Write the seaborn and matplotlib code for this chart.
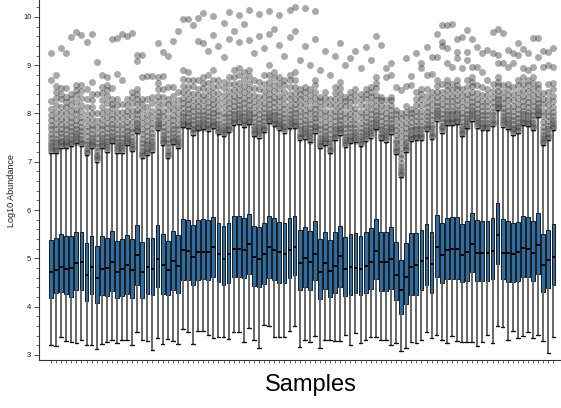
import matplotlib
matplotlib.use("Agg")
import matplotlib.pyplot as plt
from matplotlib.ticker import MultipleLocator
import pandas as pd
import seaborn as sns

# One box per sample
samples = [f"S{i + 1:03d}" for i in range(100)]

whisker_low = [3.20, 3.18, 3.37, 3.28, 3.26, 3.24, 3.30, 3.21, 3.21, 3.13,
               3.23, 3.26, 3.32, 3.24, 3.32, 3.32, 3.20, 3.47, 3.31, 3.28,
               3.10, 3.36, 3.23, 3.34, 3.28, 3.23, 3.53, 3.47, 3.23, 3.50,
               3.49, 3.41, 3.36, 3.38, 3.38, 3.33, 3.48, 3.48, 3.26, 3.55,
               3.30, 3.15, 3.63, 3.61, 3.38, 3.37, 3.37, 3.49, 3.59, 3.16,
               3.30, 3.27, 3.39, 3.14, 3.32, 3.32, 3.28, 3.28, 3.41, 3.20,
               3.45, 3.24, 3.32, 3.37, 3.37, 3.32, 3.30, 3.20, 3.24, 3.09,
               3.15, 3.27, 3.24, 3.32, 3.48, 3.36, 3.41, 3.32, 3.24, 3.39,
               3.28, 3.27, 3.26, 3.27, 3.19, 3.26, 3.41, 3.24, 3.59, 3.57,
               3.32, 3.50, 3.35, 3.39, 3.48, 3.35, 3.42, 3.28, 3.04, 3.38]

q1 = [4.19, 4.28, 4.30, 4.26, 4.21, 4.34, 4.34, 4.12, 4.26, 4.08,
      4.24, 4.23, 4.33, 4.17, 4.23, 4.26, 4.19, 4.45, 4.19, 4.27,
      4.24, 4.41, 4.27, 4.24, 4.35, 4.28, 4.56, 4.55, 4.45, 4.55,
      4.57, 4.56, 4.62, 4.52, 4.45, 4.49, 4.61, 4.61, 4.59, 4.68,
      4.43, 4.40, 4.47, 4.60, 4.56, 4.50, 4.50, 4.59, 4.65, 4.35,
      4.41, 4.35, 4.55, 4.15, 4.36, 4.20, 4.28, 4.41, 4.22, 4.24,
      4.28, 4.24, 4.29, 4.37, 4.57, 4.33, 4.33, 4.37, 4.13, 3.85,
      4.05, 4.25, 4.24, 4.35, 4.44, 4.28, 4.61, 4.50, 4.57, 4.58,
      4.58, 4.51, 4.54, 4.71, 4.53, 4.53, 4.53, 4.57, 4.88, 4.58,
      4.51, 4.51, 4.54, 4.62, 4.61, 4.53, 4.68, 4.30, 4.39, 4.45]

median = [4.71, 4.76, 4.83, 4.79, 4.80, 4.90, 4.92, 4.66, 4.82, 4.59,
          4.77, 4.81, 4.92, 4.72, 4.77, 4.86, 4.75, 5.06, 4.71, 4.82,
          4.79, 4.99, 4.86, 4.75, 4.94, 4.84, 5.17, 5.15, 5.03, 5.13,
          5.13, 5.14, 5.23, 5.10, 4.98, 5.09, 5.19, 5.20, 5.17, 5.30,
          5.02, 4.98, 5.10, 5.24, 5.17, 5.14, 5.10, 5.17, 5.23, 4.91,
          5.00, 4.93, 5.10, 4.71, 4.91, 4.74, 4.84, 5.04, 4.78, 4.83,
          4.81, 4.77, 4.84, 4.93, 5.16, 4.92, 4.92, 4.98, 4.66, 4.35,
          4.62, 4.83, 4.87, 4.94, 5.01, 4.88, 5.23, 5.06, 5.17, 5.19,
          5.19, 5.08, 5.13, 5.30, 5.11, 5.12, 5.12, 5.15, 5.48, 5.11,
          5.11, 5.09, 5.14, 5.21, 5.19, 5.12, 5.28, 4.87, 4.97, 5.02]

q3 = [5.38, 5.43, 5.51, 5.47, 5.47, 5.54, 5.54, 5.31, 5.46, 5.25,
      5.46, 5.42, 5.56, 5.37, 5.41, 5.48, 5.41, 5.70, 5.34, 5.42,
      5.43, 5.70, 5.50, 5.37, 5.56, 5.48, 5.81, 5.80, 5.69, 5.80,
      5.81, 5.79, 5.85, 5.74, 5.68, 5.74, 5.87, 5.88, 5.84, 5.92,
      5.67, 5.64, 5.73, 5.88, 5.83, 5.76, 5.74, 5.83, 5.87, 5.59,
      5.64, 5.57, 5.77, 5.40, 5.55, 5.39, 5.55, 5.67, 5.45, 5.50,
      5.53, 5.47, 5.55, 5.62, 5.81, 5.55, 5.55, 5.64, 5.34, 4.97,
      5.31, 5.52, 5.52, 5.59, 5.71, 5.55, 5.89, 5.73, 5.84, 5.85,
      5.85, 5.71, 5.78, 5.95, 5.79, 5.78, 5.78, 5.83, 6.15, 5.82,
      5.77, 5.73, 5.75, 5.88, 5.85, 5.77, 5.95, 5.51, 5.59, 5.71]

whisker_high = [7.19, 7.18, 7.29, 7.28, 7.33, 7.38, 7.33, 7.14, 7.28, 7.00,
                7.28, 7.21, 7.39, 7.19, 7.19, 7.34, 7.22, 7.59, 7.08, 7.14,
                7.21, 7.65, 7.34, 7.08, 7.37, 7.28, 7.72, 7.70, 7.56, 7.66,
                7.67, 7.64, 7.70, 7.57, 7.53, 7.62, 7.76, 7.79, 7.72, 7.78,
                7.53, 7.50, 7.62, 7.80, 7.74, 7.65, 7.60, 7.69, 7.70, 7.45,
                7.48, 7.40, 7.60, 7.28, 7.34, 7.18, 7.45, 7.56, 7.30, 7.39,
                7.40, 7.32, 7.44, 7.50, 7.67, 7.45, 7.42, 7.58, 7.16, 6.68,
                7.20, 7.43, 7.45, 7.45, 7.64, 7.47, 7.85, 7.60, 7.76, 7.76,
                7.78, 7.53, 7.69, 7.85, 7.71, 7.66, 7.66, 7.74, 8.07, 7.73,
                7.67, 7.56, 7.60, 7.76, 7.74, 7.66, 7.92, 7.34, 7.45, 7.65]

# Values above the upper whisker, per sample
outliers = [
    [7.23, 7.28, 7.35, 7.42, 7.50, 7.58, 7.67, 7.76, 7.86, 7.97, 8.10, 8.25, 8.70, 9.25],
    [7.22, 7.27, 7.33, 7.40, 7.48, 7.57, 7.67, 7.78, 7.90, 8.03, 8.18, 8.33, 8.45, 8.57, 8.80],
    [7.33, 7.38, 7.44, 7.51, 7.59, 7.68, 7.78, 7.89, 8.01, 8.14, 8.29, 8.40, 8.52, 9.35],
    [7.32, 7.37, 7.43, 7.50, 7.58, 7.67, 7.77, 7.88, 8.00, 8.13, 8.24, 8.35, 8.52, 9.25],
    [7.37, 7.42, 7.48, 7.55, 7.63, 7.72, 7.82, 7.93, 8.05, 8.18, 8.29, 8.40, 9.59],
    [7.42, 7.47, 7.53, 7.60, 7.68, 7.77, 7.87, 7.98, 8.10, 8.23, 8.38, 8.49, 8.60, 9.68],
    [7.37, 7.42, 7.48, 7.55, 7.63, 7.72, 7.82, 7.93, 8.05, 8.18, 8.33, 8.47, 8.60, 9.62],
    [7.18, 7.23, 7.29, 7.36, 7.44, 7.53, 7.63, 7.74, 7.86, 7.99, 8.14, 8.30, 8.50, 9.49],
    [7.32, 7.37, 7.43, 7.50, 7.58, 7.67, 7.77, 7.88, 8.00, 8.13, 8.27, 8.40, 8.65, 9.65],
    [7.04, 7.09, 7.15, 7.22, 7.30, 7.39, 7.49, 7.60, 7.72, 7.85, 8.00, 8.40, 9.06],
    [7.32, 7.37, 7.43, 7.50, 7.58, 7.67, 7.77, 7.88, 8.00, 8.13, 8.28, 8.42, 8.55, 8.80],
    [7.25, 7.30, 7.36, 7.43, 7.51, 7.60, 7.70, 7.81, 7.93, 8.06, 8.21, 8.36, 8.48, 8.60, 8.75],
    [7.43, 7.48, 7.54, 7.61, 7.69, 7.78, 7.88, 7.99, 8.11, 8.20, 8.30, 8.52, 9.54],
    [7.23, 7.28, 7.34, 7.41, 7.49, 7.58, 7.68, 7.79, 7.91, 8.04, 8.17, 8.30, 8.82, 9.56],
    [7.23, 7.28, 7.34, 7.41, 7.49, 7.58, 7.68, 7.79, 7.91, 8.04, 8.20, 8.70, 9.64],
    [7.38, 7.43, 7.49, 7.56, 7.64, 7.73, 7.83, 7.94, 8.06, 8.18, 8.30, 9.60],
    [7.26, 7.31, 7.37, 7.44, 7.52, 7.61, 7.71, 7.82, 7.94, 8.07, 8.22, 8.34, 8.45, 9.66],
    [7.63, 7.68, 7.74, 7.81, 7.89, 7.98, 8.08, 8.19, 8.31, 8.41, 8.50, 9.08, 9.21],
    [7.12, 7.17, 7.23, 7.30, 7.38, 7.47, 7.57, 7.68, 7.80, 7.93, 8.08, 8.20, 8.30, 8.75, 9.22],
    [7.18, 7.23, 7.29, 7.36, 7.44, 7.53, 7.63, 7.74, 7.86, 7.99, 8.14, 8.30, 8.77],
    [7.25, 7.30, 7.36, 7.43, 7.51, 7.60, 7.70, 7.81, 7.93, 8.06, 8.21, 8.35, 8.78],
    [7.69, 7.74, 7.80, 7.87, 7.95, 8.04, 8.14, 8.25, 8.37, 8.50, 8.63, 8.75, 9.46],
    [7.38, 7.43, 7.49, 7.56, 7.64, 7.73, 7.83, 7.94, 8.06, 8.19, 8.34, 8.50, 8.78, 9.27],
    [7.12, 7.17, 7.23, 7.30, 7.38, 7.47, 7.57, 7.68, 7.80, 7.93, 8.08, 8.20, 8.30, 8.55, 9.19],
    [7.41, 7.46, 7.52, 7.59, 7.67, 7.76, 7.86, 7.97, 8.09, 8.22, 8.37, 8.55, 9.50],
    [7.32, 7.37, 7.43, 7.50, 7.58, 7.67, 7.77, 7.88, 8.00, 8.13, 8.28, 8.45, 9.70],
    [7.76, 7.81, 7.87, 7.94, 8.02, 8.11, 8.21, 8.32, 8.44, 8.57, 8.72, 8.90, 9.96],
    [7.74, 7.79, 7.85, 7.92, 8.00, 8.09, 8.19, 8.30, 8.42, 8.55, 8.70, 8.85, 9.95],
    [7.60, 7.65, 7.71, 7.78, 7.86, 7.95, 8.05, 8.16, 8.28, 8.41, 8.56, 8.70, 9.83],
    [7.70, 7.75, 7.81, 7.88, 7.96, 8.05, 8.15, 8.26, 8.38, 8.51, 8.70, 9.50, 9.98],
    [7.71, 7.76, 7.82, 7.89, 7.97, 8.06, 8.16, 8.27, 8.39, 8.52, 8.64, 8.75, 9.45, 10.08],
    [7.68, 7.73, 7.79, 7.86, 7.94, 8.03, 8.13, 8.24, 8.36, 8.49, 8.64, 8.80, 9.30],
    [7.74, 7.79, 7.85, 7.92, 8.00, 8.09, 8.19, 8.30, 8.42, 8.55, 8.70, 8.90, 9.62, 10.02],
    [7.61, 7.66, 7.72, 7.79, 7.87, 7.96, 8.06, 8.17, 8.29, 8.42, 8.57, 8.70, 9.40],
    [7.57, 7.62, 7.68, 7.75, 7.83, 7.92, 8.02, 8.13, 8.25, 8.38, 8.53, 8.65, 9.18, 9.88],
    [7.66, 7.71, 7.77, 7.84, 7.92, 8.01, 8.11, 8.22, 8.34, 8.47, 8.62, 8.75, 9.55, 10.10],
    [7.80, 7.85, 7.91, 7.98, 8.06, 8.15, 8.25, 8.36, 8.48, 8.61, 8.76, 8.90, 9.70],
    [7.83, 7.88, 7.94, 8.01, 8.09, 8.18, 8.28, 8.39, 8.51, 8.64, 8.79, 8.95, 9.48, 10.04],
    [7.76, 7.81, 7.87, 7.94, 8.02, 8.11, 8.21, 8.32, 8.44, 8.57, 8.72, 8.85, 9.85],
    [7.82, 7.87, 7.93, 8.00, 8.08, 8.17, 8.27, 8.38, 8.50, 8.63, 8.78, 8.90, 9.52, 10.15],
    [7.57, 7.62, 7.68, 7.75, 7.83, 7.92, 8.02, 8.13, 8.25, 8.38, 8.53, 8.70, 9.25],
    [7.54, 7.59, 7.65, 7.72, 7.80, 7.89, 7.99, 8.10, 8.22, 8.35, 8.50, 8.65, 9.60, 10.06],
    [7.66, 7.71, 7.77, 7.84, 7.92, 8.01, 8.11, 8.22, 8.34, 8.47, 8.62, 8.80, 9.35],
    [7.84, 7.89, 7.95, 8.02, 8.10, 8.19, 8.29, 8.40, 8.52, 8.65, 8.80, 9.00, 9.65, 10.12],
    [7.78, 7.83, 7.89, 7.96, 8.04, 8.13, 8.23, 8.34, 8.46, 8.59, 8.74, 8.85, 9.75],
    [7.69, 7.74, 7.80, 7.87, 7.95, 8.04, 8.14, 8.25, 8.37, 8.50, 8.63, 8.75, 9.42, 10.03],
    [7.64, 7.69, 7.75, 7.82, 7.90, 7.99, 8.09, 8.20, 8.32, 8.45, 8.58, 8.70, 9.20],
    [7.73, 7.78, 7.84, 7.91, 7.99, 8.08, 8.18, 8.29, 8.41, 8.54, 8.69, 8.80, 9.58, 10.15],
    [7.74, 7.79, 7.85, 7.92, 8.00, 8.09, 8.19, 8.30, 8.42, 8.55, 8.70, 8.85, 9.70, 10.20],
    [7.49, 7.54, 7.60, 7.67, 7.75, 7.84, 7.94, 8.05, 8.17, 8.30, 8.40, 8.50, 9.10],
    [7.52, 7.57, 7.63, 7.70, 7.78, 7.87, 7.97, 8.08, 8.20, 8.33, 8.45, 8.55, 9.40, 10.18],
    [7.44, 7.49, 7.55, 7.62, 7.70, 7.79, 7.89, 8.00, 8.12, 8.25, 8.38, 8.50, 9.00],
    [7.64, 7.69, 7.75, 7.82, 7.90, 7.99, 8.09, 8.20, 8.32, 8.45, 8.58, 8.70, 9.55, 10.12],
    [7.32, 7.37, 7.43, 7.50, 7.58, 7.67, 7.77, 7.88, 8.00, 8.13, 8.25, 8.35, 8.90],
    [7.38, 7.43, 7.49, 7.56, 7.64, 7.73, 7.83, 7.94, 8.06, 8.19, 8.33, 8.45, 9.30],
    [7.22, 7.27, 7.33, 7.40, 7.48, 7.57, 7.67, 7.78, 7.90, 8.03, 8.18, 8.30, 8.80],
    [7.49, 7.54, 7.60, 7.67, 7.75, 7.84, 7.94, 8.05, 8.17, 8.30, 8.43, 8.55, 9.20],
    [7.60, 7.65, 7.71, 7.78, 7.86, 7.95, 8.05, 8.16, 8.28, 8.41, 8.53, 8.65, 9.45],
    [7.34, 7.39, 7.45, 7.52, 7.60, 7.69, 7.79, 7.90, 8.02, 8.15, 8.25, 8.35, 9.00],
    [7.43, 7.48, 7.54, 7.61, 7.69, 7.78, 7.88, 7.99, 8.11, 8.24, 8.35, 8.45, 9.15],
    [7.44, 7.49, 7.55, 7.62, 7.70, 7.79, 7.89, 8.00, 8.12, 8.25, 8.38, 8.50, 9.30],
    [7.36, 7.41, 7.47, 7.54, 7.62, 7.71, 7.81, 7.92, 8.04, 8.17, 8.29, 8.40, 8.95],
    [7.48, 7.53, 7.59, 7.66, 7.74, 7.83, 7.93, 8.04, 8.16, 8.29, 8.40, 8.50, 9.38],
    [7.54, 7.59, 7.65, 7.72, 7.80, 7.89, 7.99, 8.10, 8.22, 8.35, 8.45, 8.55, 9.10],
    [7.71, 7.76, 7.82, 7.89, 7.97, 8.06, 8.16, 8.27, 8.39, 8.52, 8.64, 8.75, 9.60],
    [7.49, 7.54, 7.60, 7.67, 7.75, 7.84, 7.94, 8.05, 8.17, 8.27, 8.35, 9.42],
    [7.46, 7.51, 7.57, 7.64, 7.72, 7.81, 7.91, 8.02, 8.14, 8.28, 8.76, 8.94],
    [7.62, 7.67, 7.73, 7.80, 7.88, 7.97, 8.07, 8.18, 8.27, 8.35, 8.80, 9.04],
    [7.20, 7.25, 7.31, 7.38, 7.46, 7.55, 7.65, 7.76, 7.88, 7.98, 8.07, 8.54],
    [6.72, 6.77, 6.83, 6.90, 6.98, 7.07, 7.17, 7.28, 7.40, 7.53, 7.65, 7.78, 7.90, 8.00, 8.49],
    [7.24, 7.29, 7.35, 7.42, 7.50, 7.59, 7.69, 7.80, 7.92, 8.04, 8.16, 8.57, 9.14],
    [7.47, 7.52, 7.58, 7.65, 7.73, 7.82, 7.92, 8.02, 8.10, 8.59, 8.78],
    [7.49, 7.54, 7.60, 7.67, 7.75, 7.84, 7.94, 8.05, 8.17, 8.30, 8.45, 9.25],
    [7.49, 7.54, 7.60, 7.67, 7.75, 7.84, 7.94, 8.05, 8.17, 8.30, 8.40, 8.50, 8.94, 9.04],
    [7.68, 7.73, 7.79, 7.86, 7.94, 8.03, 8.13, 8.24, 8.36, 8.50, 8.80, 9.38],
    [7.51, 7.56, 7.62, 7.69, 7.77, 7.86, 7.96, 8.07, 8.19, 8.32, 8.45, 8.82, 9.16],
    [7.89, 7.94, 8.00, 8.07, 8.15, 8.24, 8.34, 8.45, 8.57, 8.69, 9.16, 9.65],
    [7.64, 7.69, 7.75, 7.82, 7.90, 7.99, 8.09, 8.20, 8.32, 8.45, 8.62, 9.40, 9.49, 9.83],
    [7.80, 7.85, 7.91, 7.98, 8.06, 8.15, 8.25, 8.36, 8.48, 8.58, 8.69, 9.05, 9.35, 9.83],
    [7.80, 7.85, 7.91, 7.98, 8.06, 8.15, 8.25, 8.36, 8.48, 8.62, 8.97, 9.85],
    [7.82, 7.87, 7.93, 8.00, 8.08, 8.17, 8.27, 8.38, 8.50, 8.60, 8.69, 9.15, 9.28, 9.54],
    [7.57, 7.62, 7.68, 7.75, 7.83, 7.92, 8.02, 8.13, 8.25, 8.38, 8.50, 8.94, 9.58],
    [7.73, 7.78, 7.84, 7.91, 7.99, 8.08, 8.18, 8.29, 8.41, 8.54, 8.69, 9.10, 9.28, 9.73],
    [7.89, 7.94, 8.00, 8.07, 8.15, 8.24, 8.34, 8.45, 8.57, 8.66, 8.76, 8.97, 9.54],
    [7.75, 7.80, 7.86, 7.93, 8.01, 8.10, 8.20, 8.31, 8.43, 8.59, 8.97, 9.38],
    [7.70, 7.75, 7.81, 7.88, 7.96, 8.05, 8.15, 8.26, 8.38, 8.55, 8.85, 9.25],
    [7.70, 7.75, 7.81, 7.88, 7.96, 8.05, 8.15, 8.26, 8.38, 8.50, 8.70, 9.32],
    [7.78, 7.83, 7.89, 7.96, 8.04, 8.13, 8.23, 8.34, 8.46, 8.62, 9.25, 9.68],
    [8.11, 8.16, 8.22, 8.29, 8.37, 8.46, 8.56, 8.66, 8.76, 9.04, 9.21, 9.74],
    [7.77, 7.82, 7.88, 7.95, 8.03, 8.12, 8.22, 8.33, 8.45, 8.59, 9.05, 9.66],
    [7.71, 7.76, 7.82, 7.89, 7.97, 8.06, 8.16, 8.27, 8.39, 8.50, 8.62, 8.97, 9.32],
    [7.60, 7.65, 7.71, 7.78, 7.86, 7.95, 8.05, 8.16, 8.28, 8.41, 8.55, 9.04, 9.25],
    [7.64, 7.69, 7.75, 7.82, 7.90, 7.99, 8.09, 8.20, 8.32, 8.45, 8.58, 8.69, 9.21, 9.47],
    [7.80, 7.85, 7.91, 7.98, 8.06, 8.15, 8.25, 8.36, 8.48, 8.61, 8.76, 8.94, 9.33],
    [7.78, 7.83, 7.89, 7.96, 8.04, 8.13, 8.23, 8.34, 8.46, 8.58, 8.69, 8.90, 9.26],
    [7.70, 7.75, 7.81, 7.88, 7.96, 8.05, 8.15, 8.26, 8.38, 8.51, 8.64, 8.76, 8.97, 9.56],
    [7.96, 8.01, 8.07, 8.14, 8.22, 8.31, 8.41, 8.52, 8.62, 9.18, 9.56],
    [7.38, 7.43, 7.49, 7.56, 7.64, 7.73, 7.83, 7.94, 8.06, 8.19, 8.31, 8.42, 8.97, 9.30],
    [7.49, 7.54, 7.60, 7.67, 7.75, 7.84, 7.94, 8.05, 8.17, 8.30, 8.45, 8.62, 9.00, 9.28],
    [7.69, 7.74, 7.80, 7.87, 7.95, 8.04, 8.14, 8.25, 8.37, 8.50, 8.63, 8.97, 9.35],
]

# Long-form tables: five summary values per sample give the exact quartiles,
# and the whiskers span min..max of those values.
box_rows = []
for name, lo, a, m, b, hi in zip(samples, whisker_low, q1, median, q3, whisker_high):
    for v in (lo, a, m, b, hi):
        box_rows.append((name, v))
box_df = pd.DataFrame(box_rows, columns=["sample", "abundance"])

out_rows = [(name, v) for name, vals in zip(samples, outliers) for v in vals]
out_df = pd.DataFrame(out_rows, columns=["sample", "abundance"])

sns.set_style("ticks")
plt.rcParams["font.family"] = ["Liberation Sans", "DejaVu Sans"]

fig = plt.figure(figsize=(5.61, 4.08), dpi=100)
ax = fig.add_axes([39 / 561, 48 / 408, 521 / 561, 360 / 408])

sns.boxplot(
    data=box_df, x="sample", y="abundance", order=samples, ax=ax,
    whis=(0, 100), showfliers=False, width=0.74,
    color="#2e6da4", saturation=1,
    boxprops=dict(edgecolor="#1b1b1b", linewidth=0.7),
    whiskerprops=dict(color="#5c5c5c", linewidth=1.3),
    capprops=dict(color="#111111", linewidth=1.0),
    medianprops=dict(color="black", linewidth=1.4),
    capwidths=0.7,
)

sns.stripplot(
    data=out_df, x="sample", y="abundance", order=samples, ax=ax,
    jitter=False, color="#2a2a2a", alpha=0.4, size=5.0, linewidth=0,
    zorder=3,
)

ax.set_xlim(-2.36, 100.3)
ax.set_ylim(2.896, 10.35)

ax.yaxis.set_major_locator(MultipleLocator(1))
ax.yaxis.set_minor_locator(MultipleLocator(0.2))
ax.tick_params(axis="y", which="major", length=3.5, width=0.6, labelsize=5.5,
               pad=2, colors="#333333", labelcolor="#1a1a2a")
ax.tick_params(axis="y", which="minor", length=2, width=0.5, colors="#333333")
ax.tick_params(axis="x", which="major", length=2.2, width=0.5,
               labelbottom=False, colors="#333333")

for side in ("left", "bottom"):
    ax.spines[side].set_linewidth(0.8)
    ax.spines[side].set_color("#333333")
sns.despine(ax=ax)

ax.set_xlabel("Samples", fontsize=17, color="black")
ax.xaxis.set_label_coords(0.522, -0.04)
ax.set_ylabel("Log10 Abundance", fontsize=6.5, color="#1a1a1a")
ax.yaxis.set_label_coords(-0.045, 0.47)

fig.savefig("out.png", dpi=100)
